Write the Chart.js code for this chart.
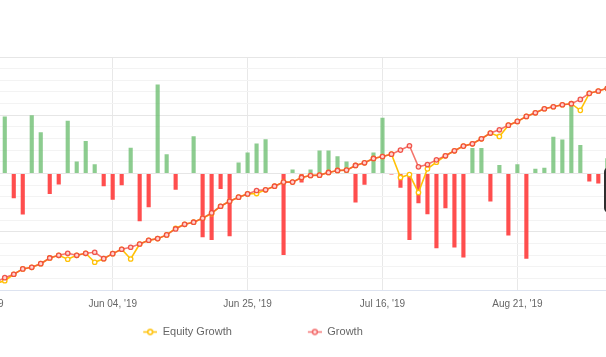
<!DOCTYPE html>
<html>
<head>
<meta charset="utf-8">
<script src="https://cdn.jsdelivr.net/npm/chart.js@4.4.1/dist/chart.umd.min.js"></script>
<style>
  html, body { margin: 0; padding: 0; background: #fff; overflow: hidden; width: 606px; height: 357px; }
  #wrap { position: absolute; left: -200px; top: 0; width: 840px; height: 357px; }
  #tip { position: absolute; left: 604px; top: 167px; width: 14px; height: 46px; background: #2f2f2f; border-radius: 5px; }
</style>
</head>
<body>
<div id="wrap"><canvas id="c" width="840" height="357"></canvas></div>
<div id="tip"></div>
<script>
const categories = ["May 14, '19","May 15, '19","May 16, '19","May 17, '19","May 20, '19","May 21, '19","May 22, '19","May 23, '19","May 24, '19","May 27, '19","May 28, '19","May 29, '19","May 30, '19","May 31, '19","Jun 03, '19","Jun 04, '19","Jun 05, '19","Jun 06, '19","Jun 07, '19","Jun 10, '19","Jun 11, '19","Jun 12, '19","Jun 13, '19","Jun 14, '19","Jun 17, '19","Jun 18, '19","Jun 19, '19","Jun 20, '19","Jun 21, '19","Jun 24, '19","Jun 25, '19","Jun 26, '19","Jun 27, '19","Jun 28, '19","Jul 01, '19","Jul 02, '19","Jul 03, '19","Jul 04, '19","Jul 05, '19","Jul 08, '19","Jul 09, '19","Jul 10, '19","Jul 11, '19","Jul 12, '19","Jul 15, '19","Jul 16, '19","Jul 17, '19","Jul 18, '19","Jul 19, '19","Aug 06, '19","Aug 07, '19","Aug 08, '19","Aug 09, '19","Aug 12, '19","Aug 13, '19","Aug 14, '19","Aug 15, '19","Aug 16, '19","Aug 19, '19","Aug 20, '19","Aug 21, '19","Aug 22, '19","Aug 23, '19","Aug 26, '19","Aug 27, '19","Aug 28, '19","Aug 29, '19","Aug 30, '19","Sep 02, '19","Sep 03, '19","Sep 04, '19","Sep 05, '19"];

const tickLabels = ["May 14, '19","Jun 04, '19","Jun 25, '19","Jul 16, '19","Aug 21, '19"];

const dailyGain = [null,null,null,
  4.9,-2.12,-3.52,4.99,3.55,-1.75,-0.95,4.53,1.03,2.78,
  0.80,-1.09,-2.26,-1.0,2.2,-4.1,-2.9,7.65,1.66,-1.4,
  -0.05,3.2,-5.47,-5.7,-1.32,-5.39,0.95,1.8,2.58,2.95,
  -0.05,-6.99,0.34,-0.77,0.34,1.98,1.98,1.49,1.03,-2.49,
  -0.97,1.8,4.79,-0.08,-1.23,-5.7,-2.55,-3.5,-6.42,-2.98,
  -6.36,-7.22,2.18,2.18,-2.41,0.72,-5.33,0.80,-7.31,0.40,
  0.49,3.15,2.92,6.05,2.44,-0.69,-0.86,1.3,null];

const growth = [null,null,0.66,
  1.06,1.35,1.81,1.95,2.26,2.75,2.98,3.15,2.98,3.15,
  3.24,2.69,3.12,3.50,3.67,3.95,4.27,4.41,4.73,5.24,
  5.64,5.82,6.16,6.62,7.19,7.62,7.97,8.25,8.54,8.60,
  8.91,9.26,9.26,9.66,9.83,9.86,10.09,10.26,10.29,10.69,
  10.92,11.29,11.46,11.66,12.01,12.38,10.57,10.77,11.17,11.52,
  11.95,12.35,12.55,12.98,13.47,13.75,14.15,14.47,14.90,15.21,
  15.56,15.73,15.90,15.99,16.36,16.88,17.08,17.31,17.54];

const equityGrowth = [null,null,0.57,
  0.80,1.35,1.81,1.95,2.26,2.75,2.98,2.64,2.98,3.15,
  2.38,2.69,3.12,3.50,2.66,3.95,4.27,4.41,4.73,5.30,
  5.64,5.82,6.16,6.56,7.19,7.62,7.97,8.25,8.28,8.60,
  8.91,9.26,9.26,9.66,9.83,9.86,10.09,10.26,10.29,10.69,
  10.92,11.29,11.46,11.66,9.66,9.91,8.37,10.40,10.97,11.52,
  11.95,12.35,12.55,12.98,13.47,13.18,14.15,14.47,14.90,15.21,
  15.56,15.73,15.90,15.99,15.42,16.88,17.08,17.31,17.54];

const seriesNames = ["Daily", "Equity Growth", "Growth"];

const GREEN = 'rgba(102,187,106,0.75)';
const RED = 'rgba(255,59,59,0.9)';
const YELLOW = '#ffc107';
const GROWTH_LINE = 'rgba(242,72,60,0.75)';
const GROWTH_POINT = 'rgba(240,70,60,0.9)';

function makeIcon(color, fill) {
  const c = document.createElement('canvas');
  c.width = 80; c.height = 11;
  const g = c.getContext('2d');
  g.strokeStyle = color; g.lineWidth = 1.5;
  g.beginPath(); g.moveTo(66, 5.5); g.lineTo(80, 5.5); g.stroke();
  g.beginPath(); g.arc(73, 5.5, 2.4, 0, Math.PI * 2);
  g.fillStyle = fill; g.fill(); g.stroke();
  return c;
}
const eqIcon = makeIcon(YELLOW, '#fff');
const grIcon = makeIcon('rgba(240,80,80,0.8)', '#ffe3e3');

Chart.defaults.font.family = '"Liberation Sans", Arial, sans-serif';
Chart.defaults.color = '#666';

new Chart(document.getElementById('c'), {
  type: 'bar',
  data: {
    labels: categories,
    datasets: [
      {
        type: 'bar', label: seriesNames[0], data: dailyGain, yAxisID: 'y', order: 3,
        backgroundColor: ctx => (ctx.raw >= 0 ? GREEN : RED),
        barPercentage: 0.46, categoryPercentage: 1.0
      },
      {
        type: 'line', label: seriesNames[1], data: equityGrowth, yAxisID: 'y1', order: 2,
        borderColor: YELLOW, borderWidth: 1.6, tension: 0,
        pointRadius: 2.2, pointBorderWidth: 1.3, pointBackgroundColor: '#fff', pointBorderColor: YELLOW
      },
      {
        type: 'line', label: seriesNames[2], data: growth, yAxisID: 'y1', order: 1,
        borderColor: GROWTH_LINE, borderWidth: 1.6, tension: 0,
        pointRadius: 2.2, pointBorderWidth: 1.3, pointBackgroundColor: '#ffd6d0', pointBorderColor: GROWTH_POINT
      }
    ]
  },
  options: {
    responsive: false,
    animation: false,
    devicePixelRatio: 1,
    layout: { padding: { top: 57, bottom: 9.5, left: 0, right: 0 } },
    plugins: {
      tooltip: { enabled: false },
      legend: {
        position: 'bottom',
        labels: {
          usePointStyle: true,
          pointStyleWidth: 80,
          padding: 10,
          font: { size: 11 },
          color: '#666',
          generateLabels: chart => [
            { text: seriesNames[1], pointStyle: eqIcon, datasetIndex: 1, hidden: !chart.isDatasetVisible(1), fillStyle: 'transparent', strokeStyle: 'transparent', lineWidth: 0, fontColor: '#666' },
            { text: seriesNames[2], pointStyle: grIcon, datasetIndex: 2, hidden: !chart.isDatasetVisible(2), fillStyle: 'transparent', strokeStyle: 'transparent', lineWidth: 0, fontColor: '#666' }
          ]
        }
      }
    },
    scales: {
      x: {
        type: 'category',
        offset: true,
        grid: {
          offset: false,
          drawTicks: false,
          color: ctx => (tickLabels.includes(categories[ctx.index]) ? '#e8e8e8' : 'rgba(0,0,0,0)')
        },
        border: { color: '#dde3f0', width: 1 },
        ticks: {
          autoSkip: false, maxRotation: 0, minRotation: 0,
          padding: 8, font: { size: 10 }, color: '#666',
          callback: (value, index) => (tickLabels.includes(categories[index]) ? categories[index] : '')
        },
        afterFit: s => { s.height = 26.5; }
      },
      y: {
        position: 'left',
        min: -10, max: 10,
        ticks: { display: false, stepSize: 1 },
        grid: {
          drawTicks: false,
          color: ctx => (ctx.tick && Math.round(ctx.tick.value) % 5 === 0 ? '#e6e6e6' : '#f3f3f3')
        },
        border: { display: false },
        afterFit: s => { s.width = 173.3; }
      },
      y1: {
        position: 'right',
        min: 0, max: 20,
        ticks: { display: false },
        grid: { display: false, drawTicks: false },
        border: { display: false },
        afterFit: s => { s.width = 19.2; }
      }
    }
  }
});
</script>
</body>
</html>
